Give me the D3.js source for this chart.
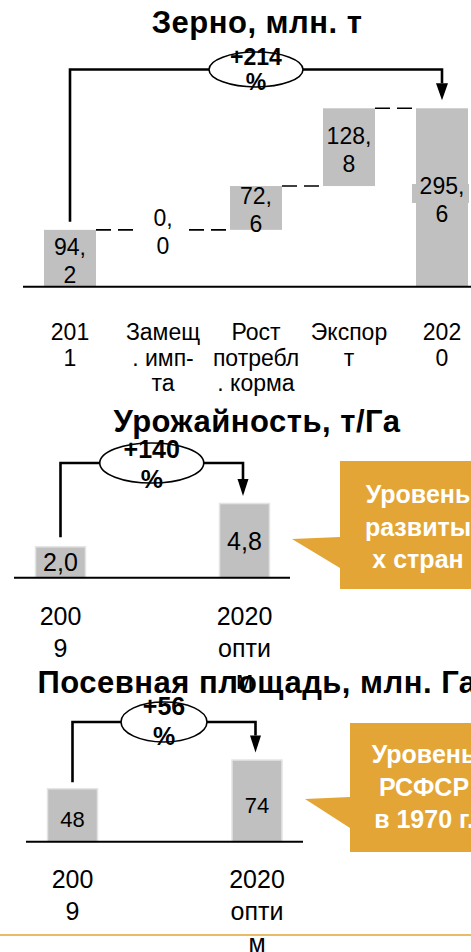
<!DOCTYPE html>
<html>
<head>
<meta charset="utf-8">
<script src="https://cdn.jsdelivr.net/npm/d3@7"></script>
<style>
  html, body { margin: 0; padding: 0; background: #fff; overflow: hidden; }
  svg { display: block; }
  text { font-family: "Liberation Sans", Arial, Helvetica, sans-serif; }
</style>
</head>
<body>
<svg id="chart" width="471" height="952"></svg>
<script>
// ---- Data -------------------------------------------------------------
// Grain balance (waterfall): first and last are totals, the rest are increments
const grainTitle = "Зерно, млн. т";
const grainCategories = [
  ["201", "1"],
  ["Замещ", ". имп-", "та"],
  ["Рост", "потребл", ". корма"],
  ["Экспор", "т"],
  ["202", "0"]
];
const grainValues = [94.2, 0.0, 72.6, 128.8, 295.6];
const grainGrowth = ["+214", "%"];

// Yield, t/ha
const yieldTitle = "Урожайность, т/Га";
const yieldCategories = [["200", "9"], ["2020", "опти", "м"]];
const yieldValues = [2.0, 4.8];
const yieldGrowth = ["+140", "%"];
const yieldNote = ["Уровень", "развиты", "х стран"];

// Sown area, mln ha
const areaTitle = "Посевная площадь, млн. Га";
const areaCategories = [["200", "9"], ["2020", "опти", "м"]];
const areaValues = [48, 74];
const areaGrowth = ["+56", "%"];
const areaNote = ["Уровень", "РСФСР", "в 1970 г."];

// ---- Styling ----------------------------------------------------------
const BAR = "#c0c0c0";
const BAR_EDGE = "#e4e4e4";
const ORANGE = "#e3a535";
const INK = "#000";

const svg = d3.select("#chart");
const fmtDec = v => d3.format(".1f")(v).replace(".", ",");

function lines(g, arr, x, y0, dy, size, weight, fill) {
  const t = g.append("text")
    .attr("text-anchor", "middle")
    .attr("font-size", size)
    .attr("font-weight", weight || "normal")
    .attr("fill", fill || INK);
  arr.forEach((s, i) => t.append("tspan").attr("x", x).attr("y", y0 + i * dy).text(s));
  return t;
}

function title(g, str, y) {
  g.append("text").attr("x", 257).attr("y", y).attr("text-anchor", "middle")
    .attr("font-size", 31).attr("font-weight", "bold")
    .attr("letter-spacing", 0.5).text(str);
}

// Elbow arrow from the first bar to the last one with an oval growth badge
function growthBracket(g, o) {
  const p = d3.path();
  p.moveTo(o.x1, o.yStart);
  p.lineTo(o.x1, o.yTop);
  p.lineTo(o.x2, o.yTop);
  p.lineTo(o.x2, o.yTip - o.head);
  g.append("path").attr("d", p.toString())
    .attr("fill", "none").attr("stroke", INK).attr("stroke-width", 2.6);
  g.append("path")
    .attr("d", `M${o.x2 - o.hw},${o.yTip - o.head}L${o.x2 + o.hw},${o.yTip - o.head}L${o.x2},${o.yTip}Z`)
    .attr("fill", INK);
  const cx = (o.x1 + o.x2) / 2;
  g.append("ellipse").attr("cx", cx).attr("cy", o.yTop).attr("rx", o.rx).attr("ry", o.ry)
    .attr("fill", "#fff").attr("stroke", INK).attr("stroke-width", 1.6);
  lines(g, o.text, cx, o.yTop + o.t0, o.tdy, o.size, "bold");
}

function callout(g, o) {
  const pts = [
    [o.left, o.top], [o.right, o.top], [o.right, o.bottom], [o.left, o.bottom],
    [o.left, o.j2], [o.tipX, o.tipY], [o.left, o.j1]
  ];
  g.append("path").attr("d", d3.line()(pts) + "Z").attr("fill", ORANGE);
  lines(g, o.text, o.cx, o.y0, o.dy, 25, "bold", "#fff");
}

// ---- Panel 1: grain waterfall -----------------------------------------
{
  const g = svg.append("g");
  const n = grainValues.length;
  const x = d3.scalePoint().domain(d3.range(n)).range([70, 442]);
  const y = d3.scaleLinear().domain([0, 295.6]).range([286.7, 108.3]);
  const bw = 52;

  let run = 0;
  const steps = grainValues.map((v, i) => {
    let lo, hi;
    if (i === 0 || i === n - 1) { lo = 0; hi = v; }
    else { lo = run; hi = run + v; }
    run = hi;
    return { i, v, lo, hi };
  });

  // dashed connectors between neighbouring bars
  steps.slice(0, -1).forEach(s => {
    g.append("line")
      .attr("x1", x(s.i) + bw / 2).attr("x2", x(s.i + 1) - bw / 2)
      .attr("y1", y(s.hi)).attr("y2", y(s.hi))
      .attr("stroke", INK).attr("stroke-width", 1.6).attr("stroke-dasharray", "15,7");
  });

  g.selectAll("rect.bar").data(steps.filter(s => s.hi > s.lo)).join("rect")
    .attr("class", "bar")
    .attr("x", s => x(s.i) - bw / 2).attr("width", bw)
    .attr("y", s => y(s.hi)).attr("height", s => y(s.lo) - y(s.hi))
    .attr("fill", BAR);

  // label plate on the final total
  const last = steps[n - 1];
  const lastMid = (y(last.lo) + y(last.hi)) / 2;
  g.append("rect").attr("x", x(last.i) - 30).attr("width", 57)
    .attr("y", lastMid - 13.5).attr("height", 19).attr("fill", BAR);

  steps.forEach(s => {
    const str = fmtDec(s.v);
    const k = str.indexOf(",") + 1;
    const mid = (y(s.lo) + y(s.hi)) / 2;
    lines(g, [str.slice(0, k), str.slice(k)], x(s.i), mid - 3.5, 28, 23);
  });

  g.append("line").attr("x1", 23).attr("x2", 471).attr("y1", y(0)).attr("y2", y(0))
    .attr("stroke", INK).attr("stroke-width", 2);

  grainCategories.forEach((c, i) => lines(g, c, x(i), 340, 25.5, 23));

  growthBracket(g, {
    x1: x(0), x2: x(n - 1), yStart: y(steps[0].hi) - 8, yTop: 69.5,
    yTip: y(last.hi) - 8, head: 17, hw: 6, rx: 47, ry: 17.5,
    text: grainGrowth, t0: -5, tdy: 25, size: 23
  });

  title(g, grainTitle, 33);
}

// ---- Panels 2 and 3: two-bar comparisons ------------------------------
function pairPanel(o) {
  const g = svg.append("g");
  const x = d3.scalePoint().domain(d3.range(o.values.length)).range(o.xRange);
  const y = d3.scaleLinear().domain([0, d3.max(o.values)]).range(o.yRange);
  const bw = 50;

  g.selectAll("rect.bar").data(o.values).join("rect")
    .attr("class", "bar")
    .attr("x", (d, i) => x(i) - bw / 2).attr("width", bw)
    .attr("y", d => y(d)).attr("height", d => y(0) - y(d))
    .attr("fill", BAR).attr("stroke", BAR_EDGE).attr("stroke-width", 1.5);

  o.values.forEach((d, i) => {
    const mid = (y(0) + y(d)) / 2;
    lines(g, [o.fmt(d)], x(i), mid + o.labelShift, 0, o.labelSize);
  });

  g.append("line").attr("x1", o.axis[0]).attr("x2", o.axis[1])
    .attr("y1", y(0)).attr("y2", y(0)).attr("stroke", INK).attr("stroke-width", 2);

  o.categories.forEach((c, i) => lines(g, c, x(i), o.catY, 32, 25));

  growthBracket(g, {
    x1: x(0), x2: x(1) - 1.5, yStart: y(o.values[0]) - o.gap0, yTop: o.bracketTop,
    yTip: y(o.values[1]) - 7.5, head: 17, hw: 5.5, rx: o.rx, ry: 20,
    text: o.growth, t0: o.t0, tdy: 30, size: 25
  });

  callout(g, o.note);

  title(g, o.title, o.titleY);
}

pairPanel({
  title: yieldTitle, titleY: 432,
  values: yieldValues, categories: yieldCategories, growth: yieldGrowth,
  xRange: [60.5, 244.5], yRange: [577.7, 503.5], axis: [14, 290],
  fmt: fmtDec, labelSize: 25, labelShift: 9,
  catY: 625, bracketTop: 463, gap0: 9.5, rx: 52, t0: -5,
  note: { left: 340, top: 461, right: 520, bottom: 589, j1: 537, j2: 568,
          tipX: 292, tipY: 539, text: yieldNote, cx: 418, y0: 503, dy: 32.5 }
});

pairPanel({
  title: areaTitle, titleY: 693,
  values: areaValues, categories: areaCategories, growth: areaGrowth,
  xRange: [72.5, 257], yRange: [841.7, 760], axis: [26, 303],
  fmt: d3.format("d"), labelSize: 22, labelShift: 12,
  catY: 888, bracketTop: 722, gap0: 6.5, rx: 43, t0: -7,
  note: { left: 350, top: 723, right: 520, bottom: 852, j1: 797, j2: 828,
          tipX: 305, tipY: 799, text: areaNote, cx: 424, y0: 763, dy: 32.5 }
});

// footer rule
svg.append("line").attr("x1", 0).attr("x2", 471).attr("y1", 935).attr("y2", 935)
  .attr("stroke", ORANGE).attr("stroke-width", 1.5);
</script>
</body>
</html>
